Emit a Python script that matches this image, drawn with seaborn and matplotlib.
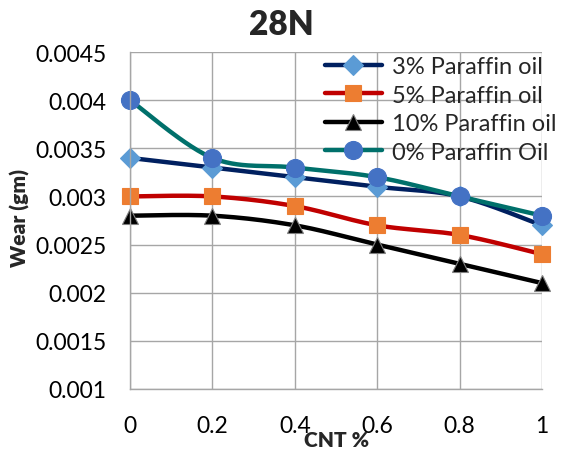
import numpy as np
import pandas as pd
import matplotlib
matplotlib.use("Agg")
import matplotlib.pyplot as plt
import seaborn as sns

cnt = [0, 0.2, 0.4, 0.6, 0.8, 1.0]
series_names = ["3% Paraffin oil", "5% Paraffin oil", "10% Paraffin oil", "0% Paraffin Oil"]
wear_3 = [0.0034, 0.0033, 0.0032, 0.0031, 0.0030, 0.0027]
wear_5 = [0.0030, 0.0030, 0.0029, 0.0027, 0.0026, 0.0024]
wear_10 = [0.0028, 0.0028, 0.0027, 0.0025, 0.0023, 0.0021]
wear_0 = [0.0040, 0.0034, 0.0033, 0.0032, 0.0030, 0.0028]
y_ticks = [0.001, 0.0015, 0.002, 0.0025, 0.003, 0.0035, 0.004, 0.0045]
y_tick_labels = ["0.001", "0.0015", "0.002", "0.0025", "0.003", "0.0035", "0.004", "0.0045"]
x_tick_labels = ["0", "0.2", "0.4", "0.6", "0.8", "1"]

styles = [
    dict(color="#002060", marker="D", mfc="#5B9BD5", mec="#5B9BD5", ms=10),
    dict(color="#C00000", marker="s", mfc="#ED7D31", mec="#ED7D31", ms=12),
    dict(color="#000000", marker="^", mfc="#000000", mec="#808080", ms=12),
    dict(color="#00706B", marker="o", mfc="#4472C4", mec="#4472C4", ms=13),
]


def smooth(x, y, n=30):
    """Excel-like smoothed line (Catmull-Rom Bezier) through the data points."""
    x = np.asarray(x, float)
    y = np.asarray(y, float)
    P = np.column_stack([x, y])
    Pe = np.vstack([P[0], P, P[-1]])
    xs, ys, idx = [], [], []
    t = np.linspace(0, 1, n, endpoint=False)
    for i in range(len(P) - 1):
        p0, p1, p2, p3 = Pe[i], Pe[i + 1], Pe[i + 2], Pe[i + 3]
        c1 = p1 + (p2 - p0) / 6.0
        c2 = p2 - (p3 - p1) / 6.0
        b = ((1 - t) ** 3)[:, None] * p1 + (3 * (1 - t) ** 2 * t)[:, None] * c1 \
            + (3 * (1 - t) * t ** 2)[:, None] * c2 + (t ** 3)[:, None] * p2
        idx.append(len(xs))
        xs.extend(b[:, 0])
        ys.extend(b[:, 1])
    idx.append(len(xs))
    xs.append(P[-1, 0])
    ys.append(P[-1, 1])
    return np.array(xs), np.array(ys), idx


sns.set_theme(style="white")
plt.rcParams["font.family"] = ["Lato", "DejaVu Sans"]

fig = plt.figure(figsize=(5.63, 4.52), dpi=100)
ax = fig.add_axes([130 / 563, 1 - 390 / 452, 412 / 563, 337 / 452])

for name, vals, st in zip(series_names, [wear_3, wear_5, wear_10, wear_0], styles):
    xs, ys, idx = smooth(cnt, vals)
    df = pd.DataFrame({"CNT %": xs, "Wear": ys})
    sns.lineplot(data=df, x="CNT %", y="Wear", ax=ax, sort=False, estimator=None,
                 color=st["color"], lw=3.2, marker=st["marker"], markevery=idx,
                 markersize=st["ms"], markerfacecolor=st["mfc"],
                 markeredgecolor=st["mec"], markeredgewidth=0.8,
                 label=name, clip_on=False, solid_capstyle="round")

ax.set_xlim(0, 1)
ax.set_ylim(0.001, 0.0045)
ax.set_xticks(cnt)
ax.set_xticklabels(x_tick_labels)
ax.set_yticks(y_ticks)
ax.set_yticklabels(y_tick_labels)
ax.grid(True, color="#A6A6A6", lw=1)
for s in ["top", "right"]:
    ax.spines[s].set_visible(False)
for s in ["left", "bottom"]:
    ax.spines[s].set_color("#A6A6A6")
    ax.spines[s].set_linewidth(1)
ax.tick_params(axis="both", which="both", length=7, color="#A6A6A6",
               labelsize=16.5, labelcolor="black", direction="out")
ax.tick_params(axis="y", pad=10)
ax.tick_params(axis="x", pad=12)

ax.set_xlabel("")
ax.set_ylabel("")
fig.text(281 / 563, 1 - 25 / 452, "28N", ha="center", va="center",
         fontsize=24, fontweight="heavy")
fig.text(20 / 563, 1 - 218 / 452, "Wear (gm)", ha="center", va="center",
         rotation=90, fontsize=15, fontweight="heavy")
fig.text(337 / 563, 1 - 441 / 452, "CNT %", ha="center", va="center",
         fontsize=15, fontweight="heavy")

leg = ax.legend(loc="upper left", bbox_to_anchor=(325 / 563, 1 - 57 / 452),
                bbox_transform=fig.transFigure, frameon=False, fontsize=17,
                handlelength=2.4, handletextpad=0.45, labelspacing=0.32,
                borderpad=0, borderaxespad=0, numpoints=1)

fig.savefig("out.png", dpi=100)
